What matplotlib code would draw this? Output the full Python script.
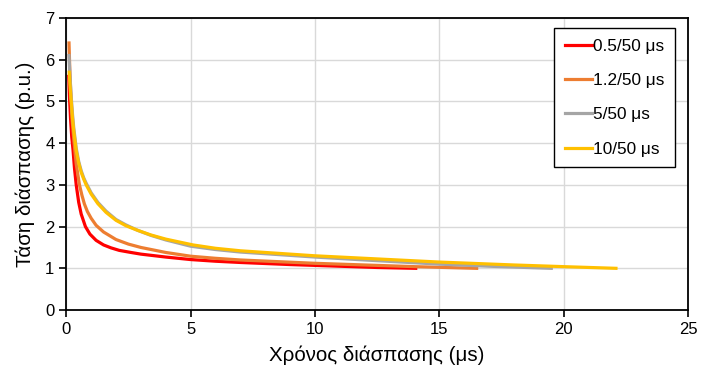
import matplotlib
matplotlib.use("Agg")
import matplotlib.pyplot as plt

plt.rcParams['font.family'] = ['Liberation Sans', 'DejaVu Sans']

# breakdown time (us) and breakdown voltage (p.u.) for each impulse shape
t_05 = [0.1, 0.13, 0.17, 0.22, 0.27, 0.33, 0.4, 0.5, 0.6, 0.77, 0.95, 1.2, 1.5, 1.8, 2.13, 2.6, 3.0,
        4.0, 5.0, 6.0, 7.0, 9.0, 11.0, 12.5, 14.05]
v_05 = [5.6, 5.1, 4.6, 4.15, 3.85, 3.4, 3.0, 2.58, 2.3, 2.0, 1.82, 1.67, 1.56, 1.49, 1.43, 1.38, 1.34,
        1.27, 1.21, 1.17, 1.14, 1.09, 1.05, 1.02, 1.0]

t_12 = [0.11, 0.14, 0.18, 0.23, 0.3, 0.4, 0.53, 0.63, 0.73, 0.85, 1.0, 1.2, 1.5, 2.0, 2.5, 3.0,
        4.0, 5.0, 6.0, 7.0, 8.5, 10.0, 12.0, 14.0, 16.5]
v_12 = [6.4, 5.8, 5.2, 4.6, 4.1, 3.5, 3.0, 2.75, 2.54, 2.36, 2.2, 2.03, 1.87, 1.69, 1.58, 1.5,
        1.38, 1.29, 1.24, 1.20, 1.16, 1.12, 1.08, 1.04, 1.0]

t_5 = [0.11, 0.15, 0.2, 0.25, 0.3, 0.4, 0.5, 0.6, 0.7, 0.8, 1.0, 1.27, 1.6, 2.0, 2.4, 2.87, 3.4,
       4.0, 5.0, 6.0, 7.0, 8.5, 10.0, 12.0, 15.0, 17.0, 19.5]
v_5 = [6.1, 5.6, 5.1, 4.7, 4.37, 3.88, 3.56, 3.34, 3.17, 3.04, 2.81, 2.58, 2.37, 2.17, 2.04, 1.91, 1.79,
       1.68, 1.53, 1.45, 1.39, 1.33, 1.27, 1.20, 1.10, 1.05, 1.0]

t_10 = [0.12, 0.16, 0.2, 0.25, 0.3, 0.4, 0.5, 0.6, 0.7, 0.8, 1.0, 1.27, 1.6, 2.0, 2.4, 2.87, 3.4,
        4.0, 5.1, 6.0, 7.0, 8.5, 10.0, 12.0, 15.0, 18.0, 20.0, 22.1]
v_10 = [5.7, 5.3, 5.0, 4.6, 4.3, 3.82, 3.52, 3.3, 3.14, 3.0, 2.78, 2.55, 2.34, 2.15, 2.02, 1.91, 1.80,
        1.70, 1.56, 1.48, 1.42, 1.36, 1.30, 1.24, 1.15, 1.08, 1.04, 1.0]

labels = ['0.5/50 μs', '1.2/50 μs', '5/50 μs', '10/50 μs']
colors = ['#FF0000', '#ED7D31', '#A5A5A5', '#FFC000']

fig = plt.figure(figsize=(7.05, 3.74), dpi=100)
ax = fig.add_axes([0.094, 0.171, 0.882, 0.781])

series = [(t_05, v_05), (t_12, v_12), (t_5, v_5), (t_10, v_10)]
for (t, v), lab, c in zip(series, labels, colors):
    ax.plot(t, v, color=c, lw=2.3, label=lab, solid_joinstyle='round')

ax.set_xlim(0, 25)
ax.set_ylim(0, 7)
ax.set_xticks(range(0, 26, 5))
ax.set_yticks(range(0, 8))
ax.grid(True, color='#D9D9D9', lw=1)
ax.set_axisbelow(True)
for s in ax.spines.values():
    s.set_color('black')
    s.set_linewidth(1.3)
ax.tick_params(direction='out', length=5, width=1.2, labelsize=12, colors='black')

ax.set_xlabel('Χρόνος διάσπασης (μs)', fontsize=14.8, labelpad=6)
ax.set_ylabel('Τάση διάσπασης (p.u.)', fontsize=14.8, labelpad=7)

leg = ax.legend(loc='upper right', bbox_to_anchor=(0.979, 0.966), borderaxespad=0,
                fontsize=12.4, frameon=True, fancybox=False, edgecolor='black', framealpha=1,
                handlelength=1.55, labelspacing=1.12, borderpad=0.62, handletextpad=0.08)
leg.get_frame().set_linewidth(1.0)

fig.savefig('out.png', dpi=100)
